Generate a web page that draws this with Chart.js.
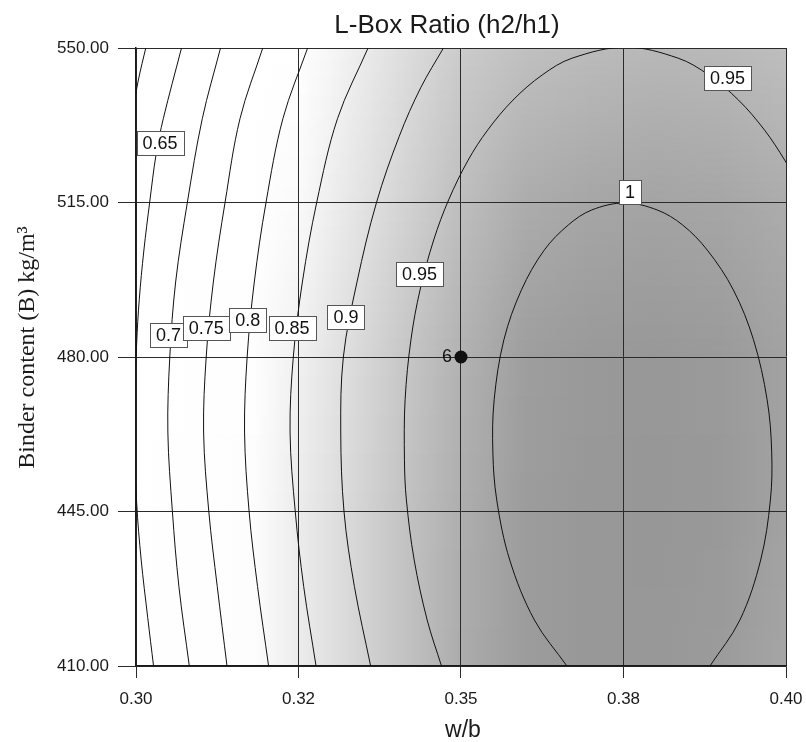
<!DOCTYPE html>
<html>
<head>
<meta charset="utf-8">
<title>L-Box Ratio (h2/h1)</title>
<script src="https://cdn.jsdelivr.net/npm/chart.js@4.4.0/dist/chart.umd.min.js"></script>
<style>
    html, body { margin: 0; padding: 0; background: #fff; }
    #wrap { width: 806px; height: 742px; }
</style>
</head>
<body>
<div id="wrap"><canvas id="lboxChart" width="806" height="742"></canvas></div>
<script>
'use strict';

// axes
var xTickValues = [0.30, 0.325, 0.35, 0.375, 0.40];
var xTickLabels = ['0.30', '0.32', '0.35', '0.38', '0.40'];
var yTickValues = [410, 445, 480, 515, 550];
var yTickLabels = ['410.00', '445.00', '480.00', '515.00', '550.00'];

// contour lines, [w/b, binder]
var contour060 = [[0.3015, 550], [0.3004, 543], [0.2994, 535]];
var contour065 = [[0.3070, 550], [0.3042, 534], [0.3031, 526], [0.3021, 515], [0.3012, 504], [0.3005, 493], [0.3001, 483], [0.2997, 465], [0.3001, 447], [0.3008, 434], [0.3018, 421], [0.3027, 410]];
var contour070 = [[0.3130, 550], [0.3102, 534], [0.3079, 515], [0.3061, 497], [0.3052, 480], [0.3049, 463], [0.3056, 445], [0.3066, 428], [0.3082, 410]];
var contour075 = [[0.3195, 550], [0.3160, 534], [0.3137, 515], [0.3119, 497], [0.3108, 480], [0.3104, 463], [0.3112, 445], [0.3125, 428], [0.3140, 410]];
var contour080 = [[0.3264, 550], [0.3226, 534], [0.3200, 515], [0.3182, 497], [0.3171, 480], [0.3167, 463], [0.3174, 445], [0.3187, 428], [0.3204, 410]];
var contour085 = [[0.3357, 550], [0.3310, 534], [0.3278, 515], [0.3256, 497], [0.3242, 480], [0.3237, 463], [0.3245, 445], [0.3258, 428], [0.3277, 410]];
var contour090 = [[0.3473, 550], [0.3438, 541], [0.3405, 530], [0.3370, 515], [0.3340, 497], [0.3319, 480], [0.3315, 463], [0.3320, 445], [0.3336, 428], [0.3361, 410]];
var contour095 = [[0.3470, 410], [0.3448, 420.4], [0.3428, 434], [0.3416, 447.6], [0.3413, 456.7], [0.3414, 470.3], [0.3423, 483.9], [0.3437, 495.2], [0.3458, 506.5], [0.3481, 515.6], [0.3511, 524.6], [0.3541, 531.4], [0.3580, 538.2], [0.3625, 543.9], [0.3671, 547.7], [0.3754, 550.2], [0.3834, 547.7], [0.3881, 543.9], [0.3927, 538.2], [0.3967, 531.4], [0.3998, 524.6], [0.4024, 517.8]];
var contour100 = [[0.3663, 410], [0.3613, 420.4], [0.3575, 434], [0.3555, 447.6], [0.3549, 458.5], [0.3551, 470.3], [0.3566, 483.9], [0.3593, 495.2], [0.3628, 504.2], [0.3665, 509.9], [0.3701, 513.3], [0.3752, 514.9], [0.3802, 513.3], [0.3841, 509.9], [0.3879, 504.2], [0.3919, 495.2], [0.3950, 483.9], [0.3971, 470.3], [0.3978, 458.5], [0.3976, 447.6], [0.3961, 434], [0.3929, 420.4], [0.3883, 410]];

// contour labels
var labelText = ['0.65', '0.7', '0.75', '0.8', '0.85', '0.9', '0.95', '0.95', '1'];
var labelX = [0.3037, 0.3050, 0.3108, 0.3172, 0.3240, 0.3323, 0.3436, 0.3910, 0.3760];
var labelY = [528.5, 484.9, 486.5, 488.3, 486.5, 489.1, 498.8, 543.1, 517.4];

// design point
var runX = [0.35];
var runY = [480];
var runLabel = ['6'];

// grey level of the response shading
var shadeX = [0.30, 0.318, 0.325, 0.33, 0.34, 0.35, 0.36, 0.37, 0.38, 0.39, 0.40];
var shadeY = [550, 515, 480, 445, 410];
var shadeGrey = [
    [255, 255, 255, 246, 224, 203, 192, 187, 184, 185, 190],
    [255, 255, 250, 238, 214, 190, 172, 166, 164, 166, 172],
    [255, 254, 240, 228, 202, 178, 158, 153, 152, 154, 162],
    [255, 253, 236, 224, 198, 174, 156, 152, 151, 153, 162],
    [255, 253, 236, 224, 198, 172, 156, 152, 152, 155, 165]
];

var sansFont = "'Liberation Sans', Arial, sans-serif";
var serifFont = "'Liberation Serif', 'Times New Roman', serif";

function toPoints(list) {
    return list.map(function(p) { return {x: p[0], y: p[1]}; });
}

function contourSet(list) {
    return {
        data: toPoints(list),
        showLine: true,
        borderColor: '#111',
        borderWidth: 1,
        pointRadius: 0,
        tension: 0.35,
        fill: false
    };
}

var shadePlugin = {
    id: 'shadePlugin',
    beforeDraw: function(chart) {
        var ctx = chart.ctx;
        var area = chart.chartArea;
        var xs = chart.scales.x;
        var ys = chart.scales.y;
        var w = area.right - area.left;

        ctx.save();
        ctx.fillStyle = '#fff';
        ctx.fillRect(0, 0, chart.width, chart.height);

        for (var py = Math.floor(area.top); py < area.bottom; py++) {
            var v = ys.getValueForPixel(py + 0.5);
            var i = 0;
            while (i < shadeY.length - 2 && v < shadeY[i + 1]) { i++; }
            var t = (shadeY[i] - v) / (shadeY[i] - shadeY[i + 1]);
            t = Math.max(0, Math.min(1, t));

            var grad = ctx.createLinearGradient(area.left, 0, area.right, 0);
            for (var k = 0; k < shadeX.length; k++) {
                var stop = (xs.getPixelForValue(shadeX[k]) - area.left) / w;
                stop = Math.max(0, Math.min(1, stop));
                var g = Math.round(shadeGrey[i][k] * (1 - t) + shadeGrey[i + 1][k] * t);
                grad.addColorStop(stop, 'rgb(' + g + ',' + g + ',' + g + ')');
            }
            ctx.fillStyle = grad;
            ctx.fillRect(area.left, py, w, 1);
        }
        ctx.restore();
    }
};

var labelPlugin = {
    id: 'labelPlugin',
    afterDatasetsDraw: function(chart) {
        var ctx = chart.ctx;
        var xs = chart.scales.x;
        var ys = chart.scales.y;

        ctx.save();
        ctx.font = '18px ' + sansFont;
        ctx.textAlign = 'center';
        ctx.textBaseline = 'middle';
        for (var i = 0; i < labelText.length; i++) {
            var cx = xs.getPixelForValue(labelX[i]);
            var cy = ys.getPixelForValue(labelY[i]);
            var tw = ctx.measureText(labelText[i]).width;
            var bw = Math.round(tw + 12);
            var bh = 24;
            var bx = Math.round(cx - bw / 2) + 0.5;
            var by = Math.round(cy - bh / 2) + 0.5;
            ctx.fillStyle = '#fff';
            ctx.fillRect(bx, by, bw, bh);
            ctx.strokeStyle = '#555';
            ctx.lineWidth = 1;
            ctx.strokeRect(bx, by, bw, bh);
            ctx.fillStyle = '#111';
            ctx.fillText(labelText[i], cx, cy + 1);
        }

        ctx.textAlign = 'right';
        for (var j = 0; j < runLabel.length; j++) {
            ctx.fillText(runLabel[j], xs.getPixelForValue(runX[j]) - 9, ys.getPixelForValue(runY[j]));
        }
        ctx.restore();
    }
};

var titlePlugin = {
    id: 'titlePlugin',
    afterDraw: function(chart) {
        var ctx = chart.ctx;
        ctx.save();
        ctx.fillStyle = '#1a1a1a';
        ctx.textAlign = 'center';
        ctx.textBaseline = 'alphabetic';

        ctx.font = '26px ' + sansFont;
        ctx.fillText('L-Box Ratio (h2/h1)', 447, 33);

        ctx.font = '23px ' + sansFont;
        ctx.fillText('w/b', 463, 737);

        ctx.translate(33.5, 347.5);
        ctx.rotate(-Math.PI / 2);
        ctx.font = '24px ' + serifFont;
        ctx.fillText('Binder content (B) kg/m\u00b3', 0, 0);
        ctx.restore();
    }
};

function drawLBoxChart() {
    var datasets = [contour060, contour065, contour070, contour075, contour080, contour085, contour090, contour095, contour100].map(contourSet);

    datasets.push({
        data: runX.map(function(x, i) { return {x: x, y: runY[i]}; }),
        showLine: false,
        pointRadius: 6.5,
        pointBackgroundColor: '#111',
        pointBorderWidth: 0
    });

    var ctx = document.getElementById('lboxChart').getContext('2d');
    new Chart(ctx, {
        type: 'scatter',
        data: { datasets: datasets },
        plugins: [shadePlugin, labelPlugin, titlePlugin],
        options: {
            responsive: false,
            animation: false,
            events: [],
            layout: { padding: { top: 48, right: 20, bottom: 0, left: 0 } },
            plugins: {
                legend: { display: false },
                tooltip: { enabled: false },
                title: { display: false }
            },
            scales: {
                x: {
                    type: 'linear',
                    min: 0.30,
                    max: 0.40,
                    afterBuildTicks: function(scale) {
                        scale.ticks = xTickValues.map(function(v) { return {value: v}; });
                    },
                    afterFit: function(scale) {
                        scale.height = 76;
                        scale.paddingLeft = 0;
                        scale.paddingRight = 0;
                    },
                    ticks: {
                        autoSkip: false,
                        maxRotation: 0,
                        padding: 11,
                        color: '#1a1a1a',
                        font: { family: sansFont, size: 17 },
                        callback: function(value, index) { return xTickLabels[index]; }
                    },
                    grid: { color: '#2a2a2a', lineWidth: 1, tickLength: 12 },
                    border: { display: true, color: '#1a1a1a', width: 1.5 }
                },
                y: {
                    type: 'linear',
                    min: 410,
                    max: 550,
                    afterBuildTicks: function(scale) {
                        scale.ticks = yTickValues.map(function(v) { return {value: v}; });
                    },
                    afterFit: function(scale) {
                        scale.width = 136;
                        scale.paddingTop = 0;
                        scale.paddingBottom = 0;
                    },
                    ticks: {
                        padding: 9,
                        color: '#1a1a1a',
                        font: { family: sansFont, size: 17 },
                        callback: function(value, index) { return yTickLabels[index]; }
                    },
                    grid: { color: '#2a2a2a', lineWidth: 1, tickLength: 18 },
                    border: { display: true, color: '#1a1a1a', width: 1.5 }
                }
            }
        }
    });
}

drawLBoxChart();
</script>
</body>
</html>
